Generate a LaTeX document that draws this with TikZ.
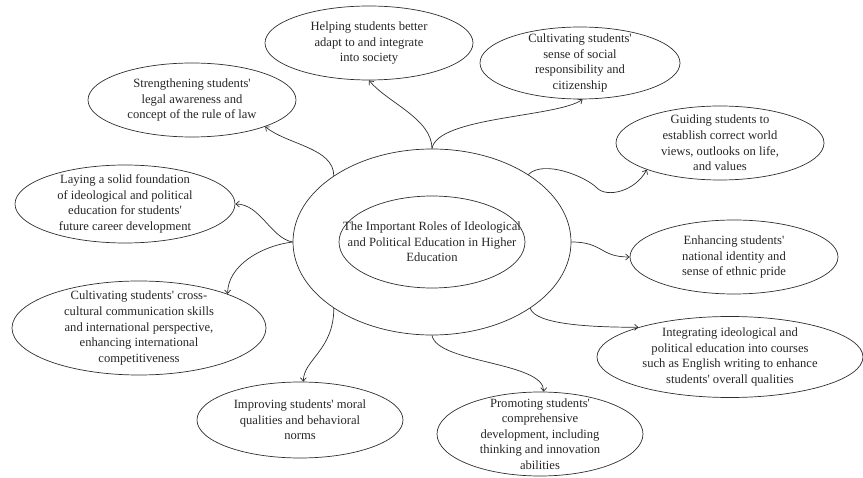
\documentclass[tikz,border=0pt]{standalone}
\usepackage{fontspec}
\setmainfont{Liberation Serif}
\usetikzlibrary{shapes.geometric,arrows.meta}
\newcommand{\ap}{\textquotesingle}
\begin{document}
\begin{tikzpicture}[x=1pt,y=-1pt,
  bubble/.style={ellipse, draw=black!82, line width=0.7pt, inner sep=0pt},
  txt/.style={align=center, text=black!85, font=\fontsize{12.6}{15.6}\selectfont},
  link/.style={draw=black!82, line width=0.7pt, -{Straight Barb[length=3.5pt,width=6pt]}}]
\useasboundingbox (0,0) rectangle (863,478);

% central topic
\node[bubble, minimum width=278pt, minimum height=186pt] (c) at (432,242) {};
\node[bubble, minimum width=186pt, minimum height=92pt,
  label={[txt]center:The Important Roles of Ideological\\and Political Education in Higher\\Education}] (ci) at (432,242) {};

% surrounding roles
\node[bubble, minimum width=208pt, minimum height=74pt,
  label={[txt]center:Helping students better\\adapt to and integrate\\into society}] (n1) at (369,43) {};
\node[bubble, minimum width=200pt, minimum height=72pt,
  label={[txt]center:Cultivating students\ap\\sense of social\\responsibility and\\citizenship}] (n2) at (580,63) {};
\node[bubble, minimum width=208pt, minimum height=74pt,
  label={[txt]center:Guiding students to\\establish correct world\\views, outlooks on life,\\and values}] (n3) at (720,143) {};
\node[bubble, minimum width=208pt, minimum height=74pt,
  label={[txt]center:Enhancing students\ap\\national identity and\\sense of ethnic pride}] (n4) at (734,257) {};
\node[bubble, minimum width=266pt, minimum height=81pt,
  label={[txt]center:Integrating ideological and\\political education into courses\\such as English writing to enhance\\students\ap{} overall qualities}] (n5) at (730,357) {};
\node[bubble, minimum width=206pt, minimum height=84pt,
  label={[txt]center:Promoting students\ap\\comprehensive\\development, including\\thinking and innovation\\abilities}] (n6) at (540,434) {};
\node[bubble, minimum width=206pt, minimum height=76pt,
  label={[txt]center:Improving students\ap{} moral\\qualities and behavioral\\norms}] (n7) at (300,420) {};
\node[bubble, minimum width=254pt, minimum height=94pt,
  label={[txt]center:Cultivating students\ap{} cross-\\cultural communication skills\\and international perspective,\\enhancing international\\competitiveness}] (n8) at (139,328) {};
\node[bubble, minimum width=220pt, minimum height=78pt,
  label={[txt]center:Laying a solid foundation\\of ideological and political\\education for students\ap\\future career development}] (n9) at (125,204) {};
\node[bubble, minimum width=208pt, minimum height=74pt,
  label={[txt]center:Strengthening students\ap\\legal awareness and\\concept of the rule of law}] (n10) at (192,100) {};

% connectors
\coordinate (g1) at (597,188);
\draw[link] (c.north) .. controls +(0,-30) and +(18,22) .. (n1.south);
\draw[link] (c.north) .. controls +(5,-32) and +(-25,18) .. (n2.-86);
\draw[link] (c.35) .. controls +(15,-15) and +(-12,-12) .. (g1)
                   .. controls +(10,10) and +(-12,22) .. (n3.200);
\draw[link] (c.east) .. controls +(32,0) and +(-30,0) .. (n4.west);
\draw[link] (c.326) .. controls +(5,16) and +(-50,0) .. (n5.162);
\draw[link] (c.south) .. controls +(5,28) and +(0,-30) .. (n6.85);
\draw[link] (c.214) .. controls +(0,42) and +(0,-22) .. (n7.85);
\draw[link] (c.west) .. controls +(-32,4) and +(0,-28) .. (n8.21.5);
\draw[link] (c.west) .. controls +(-22,-4) and +(25,0) .. (n9.east);
\draw[link] (c.146) .. controls +(0,-28) and +(22,18) .. (n10.-20.5);
\end{tikzpicture}
\end{document}
